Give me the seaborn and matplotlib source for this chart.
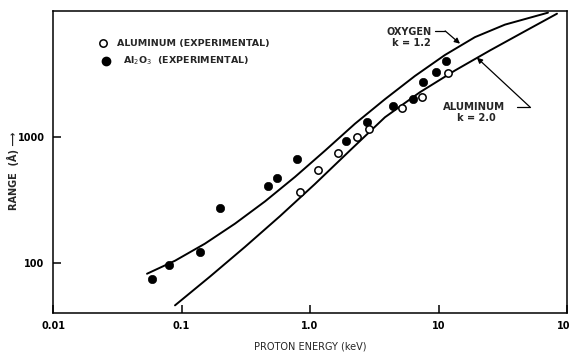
import matplotlib
matplotlib.use("Agg")
import matplotlib.pyplot as plt
import seaborn as sns
import pandas as pd

# Experimental data
al_energy = [0.836, 1.15, 1.65, 2.32, 2.88, 5.20, 7.44, 11.86]
al_range = [366, 546, 743, 995, 1148, 1683, 2093, 3243]
al2o3_energy = [0.059, 0.080, 0.139, 0.200, 0.471, 0.553, 0.792, 1.91, 2.78, 4.43, 6.34, 7.57, 9.57, 11.4]
al2o3_range = [75, 97, 123, 273, 407, 472, 667, 925, 1304, 1746, 2018, 2754, 3303, 4036]

# Theoretical curves
oxy_energy = [0.0539, 0.0890, 0.152, 0.261, 0.447, 0.765, 1.31, 2.24, 3.83, 6.56, 11.2, 19.2, 32.9, 71.1]
oxy_range = [82, 104, 142, 205, 308, 482, 779, 1274, 1993, 3050, 4468, 6199, 7795, 9697]
alc_energy = [0.0890, 0.167, 0.312, 0.584, 1.09, 2.05, 3.83, 7.18, 13.4, 25.2, 47.1, 83.6]
alc_range = [46, 78, 134, 235, 422, 782, 1433, 2267, 3365, 4867, 6914, 9521]

xticks = [0.01, 0.1, 1.0, 10, 100]
xticklabels = ["0.01", "0.1", "1.0", "10", "100"]
yticks = [100, 1000]
yticklabels = ["100", "1000"]

sns.set_style("ticks")
plt.rcParams['font.family'] = ['DejaVu Sans']

fig = plt.figure(figsize=(5.7, 3.53), dpi=100)
ax = fig.add_axes([53/570, 1-313/353, 514/570, 302/353])
ax.set_xscale("log")
ax.set_yscale("log")

oxy = pd.DataFrame({"E": oxy_energy, "R": oxy_range})
alc = pd.DataFrame({"E": alc_energy, "R": alc_range})
sns.lineplot(data=oxy, x="E", y="R", sort=False, estimator=None, color="black", lw=1.4, ax=ax)
sns.lineplot(data=alc, x="E", y="R", sort=False, estimator=None, color="black", lw=1.4, ax=ax)

al = pd.DataFrame({"E": al_energy, "R": al_range})
al2 = pd.DataFrame({"E": al2o3_energy, "R": al2o3_range})
sns.scatterplot(data=al2, x="E", y="R", marker="o", s=36, color="black", edgecolor="black", ax=ax, zorder=3)
sns.scatterplot(data=al, x="E", y="R", marker="o", s=28, facecolor="white", edgecolor="black", linewidth=1.1, ax=ax, zorder=3)

ax.set_xlim(0.01, 100)
ax.set_ylim(40, 10000)
ax.set_xticks(xticks)
ax.set_xticklabels(xticklabels)
ax.set_yticks(yticks)
ax.set_yticklabels(yticklabels)
ax.minorticks_off()
ax.tick_params(direction="in", length=6, width=1.1, labelsize=7, pad=6, colors="black")
for lab in ax.get_xticklabels() + ax.get_yticklabels():
    lab.set_fontweight("bold")
for sp in ax.spines.values():
    sp.set_visible(True)
    sp.set_linewidth(1.1)
    sp.set_color("black")

ax.set_xlabel("PROTON ENERGY (keV)", fontsize=7)
ax.set_ylabel("RANGE  (Å) ⟶", fontsize=7, fontweight="bold")
ax.xaxis.set_label_coords(0.5, -0.095)
ax.yaxis.set_label_coords(-0.066, 0.47)

# Legend (manual)
tr = ax.transAxes
ax.plot([0.097], [0.894], marker="o", ms=5.3, mfc="white", mec="black", mew=1.1, transform=tr, clip_on=False)
ax.text(0.125, 0.894, "ALUMINUM (EXPERIMENTAL)", transform=tr, fontsize=6.8, fontweight="bold", va="center", ha="left")
ax.plot([0.103], [0.834], marker="o", ms=6, mfc="black", mec="black", transform=tr, clip_on=False)
ax.text(0.136, 0.834, r"Al$_2$O$_3$  (EXPERIMENTAL)", transform=tr, fontsize=6.8, fontweight="bold", va="center", ha="left")

# Curve annotations
ax.text(0.693, 0.930, "OXYGEN", transform=tr, fontsize=7, ha="center", va="center", fontweight="bold")
ax.text(0.697, 0.894, "k = 1.2", transform=tr, fontsize=7, ha="center", va="center", fontweight="bold")
ax.plot([0.743, 0.763], [0.934, 0.934], color="black", lw=0.9, transform=tr)
ax.annotate("", xy=(14.7, 5500), xycoords="data", xytext=(0.763, 0.934), textcoords="axes fraction",
            arrowprops=dict(arrowstyle="-|>", color="black", lw=0.9, mutation_scale=8, shrinkA=0, shrinkB=0))

ax.text(0.820, 0.682, "ALUMINUM", transform=tr, fontsize=7.3, ha="center", va="center", fontweight="bold")
ax.text(0.823, 0.646, "k = 2.0", transform=tr, fontsize=7, ha="center", va="center", fontweight="bold")
ax.plot([0.903, 0.928], [0.682, 0.682], color="black", lw=0.9, transform=tr)
ax.annotate("", xy=(19.9, 4260), xycoords="data", xytext=(0.928, 0.682), textcoords="axes fraction",
            arrowprops=dict(arrowstyle="-|>", color="black", lw=0.9, mutation_scale=8, shrinkA=0, shrinkB=0))

fig.savefig("out.png", dpi=100)
